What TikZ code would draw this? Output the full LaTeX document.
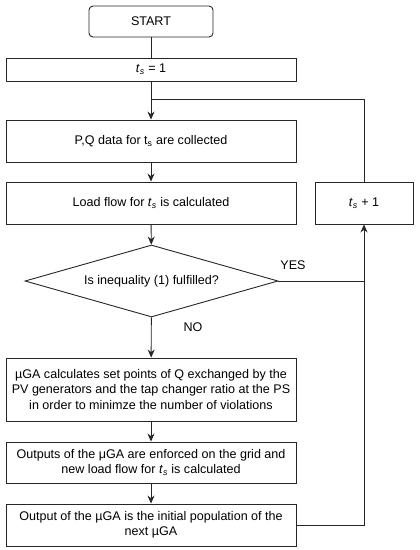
\documentclass[tikz,border=0pt]{standalone}
\usepackage{fontspec}
\setmainfont{Liberation Sans}
\usetikzlibrary{shapes.geometric,arrows.meta}
\tikzset{
    block/.style={draw=black!85, line width=0.9bp, rectangle, minimum width=290bp, inner sep=2bp, align=center},
    decision/.style={draw=black!85, line width=0.9bp, diamond, inner sep=0pt, aspect=3.51, minimum width=253bp, minimum height=72bp},
    flow/.style={draw=black!85, line width=0.9bp, -{Stealth[length=8bp, width=7bp]}},
    link/.style={draw=black!85, line width=0.9bp},
}
\newcommand{\tsi}{\textit{t}\textsubscript{\textit{s}}}
\begin{document}
\begin{tikzpicture}[x=1bp, y=-1bp, font=\fontsize{12.6}{15.5}\selectfont]
    \useasboundingbox (0,0) rectangle (419,550);

    \node[draw=black!85, line width=0.9bp, rounded corners=4bp, minimum width=124bp, minimum height=31bp] (start) at (151,21.5) {START};
    \node[block, minimum height=23bp] (init) at (151,69.5) {\tsi{} = 1};
    \node[block, minimum height=42bp] (collect) at (151,141) {P,Q data for t\textsubscript{s} are collected};
    \node[block, minimum height=42bp] (load) at (151,203) {Load flow for \tsi{} is calculated};
    \node[decision] (check) at (151.5,281) {Is inequality (1) fulfilled?};
    \node[block, minimum height=63bp] (mga) at (151,389.5) {µGA calculates set points of Q exchanged by the\\PV generators and the tap changer ratio at the PS\\in order to minimze the number of violations};
    \node[block, minimum height=41bp] (enforce) at (151,462.5) {Outputs of the μGA are enforced on the grid and\\new load flow for \tsi{} is calculated};
    \node[block, minimum height=42bp] (output) at (151,525) {Output of the µGA is the initial population of the\\next µGA};
    \node[draw=black!85, line width=0.9bp, minimum width=98bp, minimum height=42bp] (next) at (364,203) {\tsi{} + 1};
    \coordinate (join) at (151,99.7);

    \node (yes) at (293,265) {YES};
    \node (no) at (193,327) {NO};

    \draw[link] (start) -- (init);
    \draw[flow] (init) -- (collect);
    \draw[flow] (collect) -- (load);
    \draw[flow] (load) -- (check);
    \draw[flow] (check) -- (mga);
    \draw[flow] (mga) -- (enforce);
    \draw[flow] (enforce) -- (output);
    \draw[link] (check.east) -- (check.east -| next.south);
    \draw[flow] (output.east) -| (next.south);
    \draw[link] (next.north) |- (join);

\end{tikzpicture}
\end{document}
